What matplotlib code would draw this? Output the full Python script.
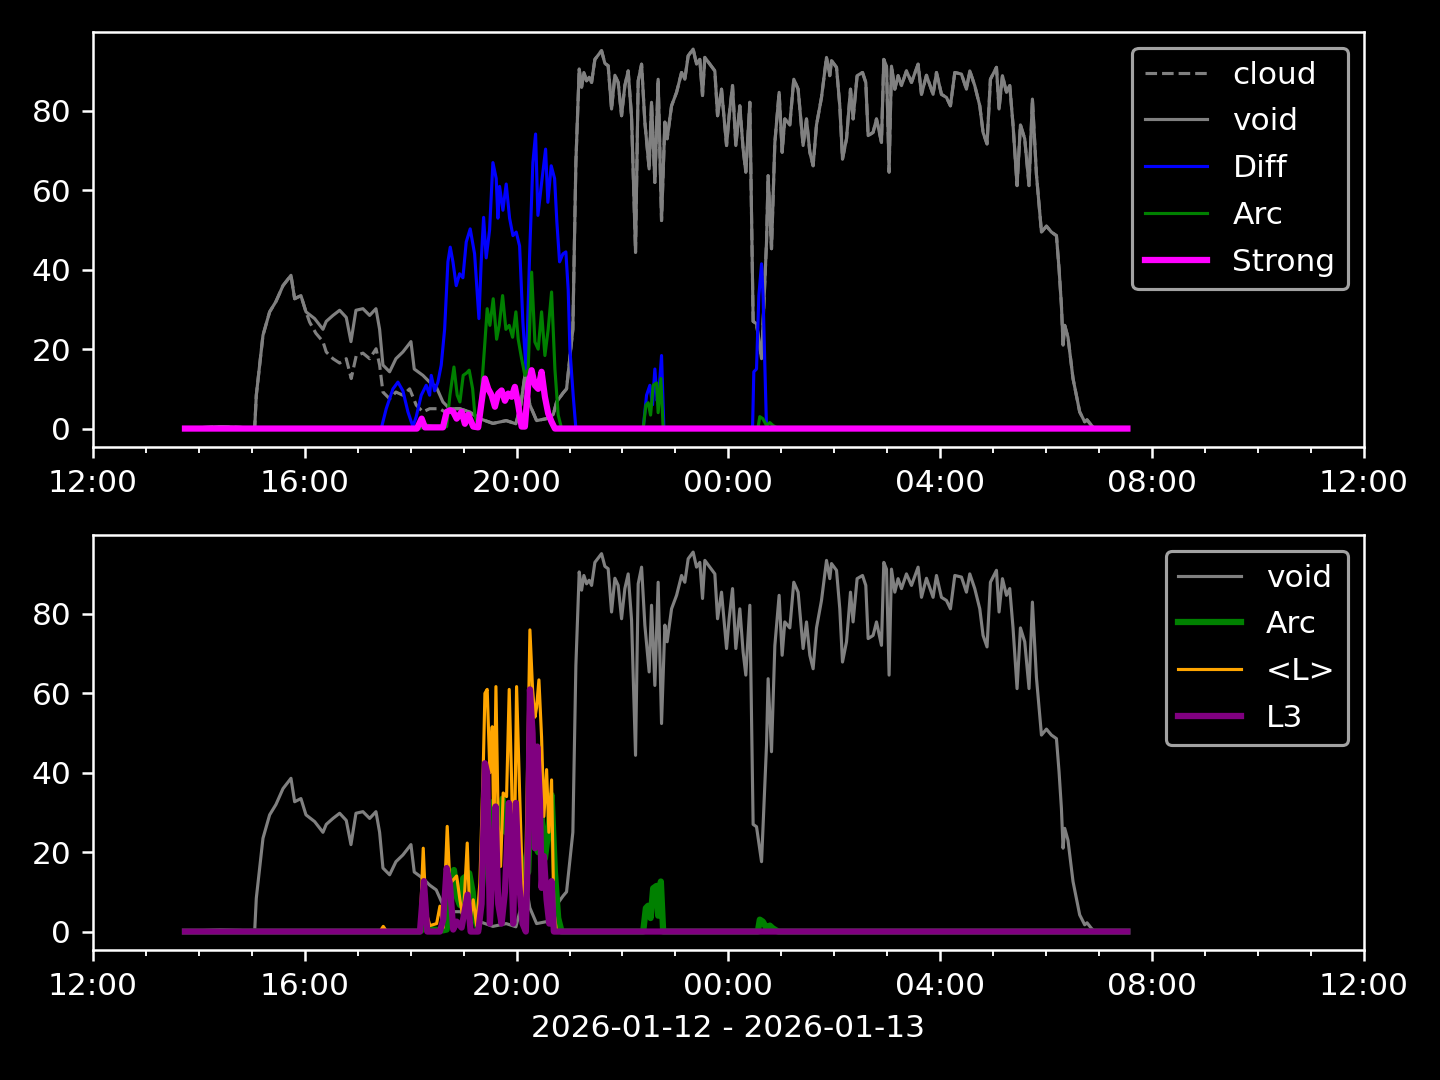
import numpy as np
import pandas as pd
import matplotlib
matplotlib.use("Agg")
import matplotlib.pyplot as plt
import matplotlib.dates as mdates

plt.style.use("dark_background")

# hours after 2026-01-12 12:00
start = pd.Timestamp("2026-01-12 12:00")

void_h = [1.737, 2.40, 2.78, 3.053, 3.084, 3.21, 3.336, 3.455, 3.588, 3.739, 3.808, 3.927, 4.022,
          4.186, 4.343, 4.405, 4.532, 4.658, 4.783, 4.872, 4.966, 5.098, 5.225, 5.344, 5.413, 5.476,
          5.602, 5.721, 5.853, 6.005, 6.067, 6.231, 6.358, 6.482, 6.609, 6.735, 6.924, 7.113, 7.302,
          7.553, 7.804, 7.987, 8.08, 8.157, 8.25, 8.378, 8.567, 8.692, 8.756, 8.88, 8.944,
          9.063, 9.12, 9.183, 9.228, 9.271, 9.322, 9.371, 9.417, 9.479, 9.605, 9.668, 9.730,
          9.794, 9.857, 9.919, 9.983, 10.045, 10.108, 10.172, 10.247, 10.297, 10.361, 10.423,
          10.504, 10.549, 10.612, 10.674, 10.738, 10.801, 10.844, 10.927, 11.022, 11.116, 11.178,
          11.241, 11.335, 11.399, 11.461, 11.512, 11.556, 11.650, 11.745, 11.796, 11.871, 11.966,
          12.015, 12.079, 12.141, 12.217, 12.279, 12.330, 12.406, 12.468, 12.532, 12.627, 12.721,
          12.751, 12.815, 12.878, 12.959, 13.016, 13.066, 13.161, 13.236, 13.318, 13.412, 13.476,
          13.539, 13.601, 13.665, 13.759, 13.854, 13.916, 13.948, 14.043, 14.105, 14.156, 14.232,
          14.307, 14.356, 14.432, 14.534, 14.596, 14.640, 14.734, 14.798, 14.892, 14.936, 14.987,
          15.036, 15.081, 15.144, 15.206, 15.270, 15.364, 15.459, 15.584, 15.648, 15.742, 15.867,
          15.931, 16.025, 16.120, 16.195, 16.277, 16.403, 16.497, 16.560, 16.654, 16.749, 16.811,
          16.886, 16.950, 17.064, 17.113, 17.177, 17.253, 17.315, 17.377, 17.453, 17.517, 17.598,
          17.679, 17.743, 17.819, 17.914, 18.008, 18.102, 18.197, 18.246, 18.291, 18.322, 18.353,
          18.415, 18.51, 18.636, 18.731, 18.775, 18.858, 18.92, 19.537]
void_v = [0, 0.5, 0.3, 0, 8.4, 23.5, 29.4, 32, 36, 38.6, 32.7, 33.5, 29.4,
          27.7, 25, 27, 28.5, 29.8, 28, 21.9, 29.8, 30.2, 28.5, 30.2, 25, 16,
          14.3, 17.6, 19.3, 21.9, 15, 13.4, 11.7, 10.5, 6.7, 5, 5, 4.2, 2.5,
          1.3, 2, 1.2, 6, 13.4, 6, 2, 2.5, 3.5, 6.7, 9, 10,
          25, 67, 90.6, 86, 89.7, 87.6, 88.5, 87.2, 93, 95.2, 92, 91.4,
          80.5, 89, 87.2, 78.8, 86.4, 90.1, 78.4, 44.4, 87.6, 91.8, 77.2,
          65.4, 82.2, 62, 88, 52.4, 77.2, 73, 81.3, 84.7, 89.7, 88,
          93.9, 95.6, 91.8, 93, 83.9, 93.5, 91.8, 90.1, 78.8, 85.5, 71.3,
          78.8, 86.4, 71.3, 81.3, 70.4, 64.6, 82.2, 27, 26.4, 17.6, 47,
          63.7, 45.3, 72, 84.7, 69.6, 78, 76.5, 88, 85.5, 71.3, 78,
          69.6, 66.2, 76.5, 83.4, 93.5, 88.9, 92.7, 91, 81.3, 67.9, 73,
          85.5, 78, 88.9, 89.7, 87.2, 73.8, 74.6, 78, 72.1, 93, 91.3,
          64.6, 91.3, 85.5, 88.9, 86.4, 90.1, 87.2, 91.8, 84.2, 89, 84.2,
          89.7, 84.2, 83.4, 81.3, 89.7, 89.3, 85.5, 90.1, 86.4, 81.3, 74.6,
          71.7, 88, 91, 80.5, 88.9, 84.7, 86.4, 76.5, 61.2, 76.5, 73,
          61.2, 83, 64, 49.5, 51, 49.5, 48.6, 40.3, 31, 21, 26,
          23, 12.6, 4.2, 1.7, 2.2, 0.8, 0, 0]

# cloud only differs from void between ~16:05 and ~18:45
cloud_h = [4.092, 4.21, 4.343, 4.405, 4.532, 4.658, 4.783, 4.877, 4.972, 5.098, 5.225, 5.346,
           5.413, 5.476, 5.602, 5.721, 5.853, 5.98, 6.105, 6.231, 6.358, 6.547, 6.671]
cloud_v = [26.8, 24, 21.9, 19.3, 17.6, 16.5, 17.6, 12.6, 18.4, 19, 17.6, 20.1,
           16, 9.2, 7.5, 9.2, 8.4, 10, 5.9, 4.2, 5, 5, 4]

diff_h = [1.737, 5.444, 5.538, 5.665, 5.759, 5.853, 5.948, 6.042, 6.105, 6.199, 6.293, 6.358,
          6.388, 6.452, 6.514, 6.577, 6.641, 6.703, 6.747, 6.798, 6.86, 6.924, 6.986, 7.049,
          7.124, 7.207, 7.289, 7.332, 7.377, 7.426, 7.49, 7.553, 7.615, 7.647, 7.679, 7.742,
          7.804, 7.868, 7.931, 7.993, 8.057, 8.119, 8.182, 8.246, 8.308, 8.359, 8.403, 8.465,
          8.548, 8.591, 8.654, 8.718, 8.761, 8.812, 8.875, 8.931, 8.975, 9.007, 9.069, 9.12,
          10.391, 10.455, 10.518, 10.568, 10.612, 10.655, 10.693, 10.738, 10.782,
          12.457, 12.481, 12.532, 12.576, 12.627, 12.657, 12.689, 12.721, 19.537]
diff_v = [0, 0, 5, 10, 11.7, 9.5, 4.2, 0.5, 3, 8.4, 10.9, 8.4,
          13.4, 9.5, 11.7, 16, 25, 42, 45.7, 42, 36, 39, 38, 47,
          50.3, 44, 27.7, 42, 53.2, 43, 50, 67, 63, 53, 61, 55,
          61.6, 53, 48.6, 49.5, 46, 26.8, 14.3, 43.6, 67, 74.2, 53.7, 61,
          70.4, 57, 66.2, 63, 52, 42, 44, 44.5, 35, 20, 8.4, 0,
          0, 8.4, 10.9, 6, 15, 7, 10, 18.4, 0,
          0, 14.3, 15, 33.5, 41.5, 33, 16, 0, 0]

arc_h = [1.737, 6.175, 6.269, 6.42, 6.609, 6.679, 6.741, 6.817, 6.879, 6.93, 6.992, 7.056,
         7.105, 7.17, 7.213, 7.275, 7.339, 7.402, 7.445, 7.496, 7.559, 7.623, 7.672, 7.736,
         7.798, 7.861, 7.925, 7.987, 8.031, 8.095, 8.157, 8.219, 8.284, 8.346, 8.408, 8.472,
         8.535, 8.597, 8.661, 8.724, 8.786, 8.85,
         10.391, 10.442, 10.485, 10.531, 10.58, 10.644, 10.674, 10.725, 10.769,
         12.557, 12.594, 12.651, 12.721, 12.783, 12.84, 12.94, 19.537]
arc_v = [0, 0, 1, 0.5, 0.3, 0.5, 8.4, 15.5, 8.4, 6.7, 13.4, 14,
         14.7, 10, 3.4, 0.5, 10, 21.8, 30.2, 26, 32.7, 22.5, 26, 33.5,
         25, 26, 23, 29.4, 22.5, 17.6, 13.4, 15, 39.4, 21.8, 20, 29.4,
         18.4, 25, 34.4, 15, 3.4, 0,
         0, 5.9, 6.5, 3.4, 10.9, 11.5, 4, 12.6, 0,
         0, 3, 2.5, 0.8, 1.5, 0.8, 0, 0]

strong_h = [1.737, 6.118, 6.207, 6.269, 6.609, 6.679, 6.741, 6.803, 6.868, 6.962, 7.024, 7.087,
            7.181, 7.275, 7.339, 7.402, 7.464, 7.528, 7.591, 7.653, 7.717, 7.78, 7.842, 7.906,
            7.968, 8.031, 8.095, 8.157, 8.219, 8.284, 8.346, 8.408, 8.472, 8.535, 8.597, 8.661,
            8.724, 19.537]
strong_v = [0, 0, 2.5, 0.3, 0.3, 4.2, 4.6, 4.2, 2.5, 4.2, 1.2, 3.5,
            0.5, 0.3, 6.7, 12.6, 10, 8.4, 5.5, 8.8, 9.6, 7, 8.8, 8,
            10.5, 6, 0.5, 0.5, 10.9, 14.7, 10.9, 10, 14.3, 8, 3.8, 1.7,
            0, 0]

lmean_h = [1.737, 5.419, 5.482, 5.546, 6.175, 6.237, 6.288, 6.363, 6.49, 6.552, 6.615, 6.69,
           6.741, 6.803, 6.868, 6.93, 6.992, 7.068, 7.119, 7.181, 7.245, 7.307, 7.371, 7.402,
           7.445, 7.496, 7.54, 7.572, 7.61, 7.653, 7.698, 7.747, 7.811, 7.861, 7.906, 7.95,
           8.0, 8.062, 8.113, 8.157, 8.208, 8.252, 8.302, 8.346, 8.378, 8.422, 8.472, 8.516,
           8.567, 8.61, 8.661, 8.704, 8.756, 19.537]
lmean_v = [0, 0, 1.3, 0, 0, 21, 5, 1.5, 2, 6.4, 1, 26.5,
           12, 13, 14, 8, 3, 22.3, 3, 8, 1.5, 12.3, 41.6, 60,
           61, 40, 51.6, 24, 61.7, 27, 16.4, 34.9, 34, 61, 38, 9.7,
           61.7, 33, 10.5, 3.8, 41.6, 76, 61, 54, 56.5, 63.4, 49, 29,
           40.8, 25, 38.2, 5, 0, 0]

l3_h = [1.737, 6.175, 6.25, 6.313, 6.552, 6.615, 6.679, 6.741, 6.803, 6.868, 6.962, 7.075,
        7.132, 7.275, 7.339, 7.402, 7.445, 7.496, 7.559, 7.604, 7.653, 7.717, 7.78, 7.855,
        7.906, 7.936, 7.987, 8.05, 8.113, 8.175, 8.219, 8.252, 8.302, 8.346, 8.39, 8.441,
        8.472, 8.516, 8.567, 8.617, 8.661, 8.704, 19.537]
l3_v = [0, 0, 12.7, 0, 0, 3, 16, 12, 0.5, 2.5, 1, 9.3,
        0, 0, 7, 42.4, 40, 2, 19, 31.5, 7, 2, 10, 32.4,
        16, 2, 32.4, 12, 2, 0, 24, 61, 50, 21, 46.6, 33,
        11, 19, 8, 2, 12.7, 0, 0]


def to_time(hours):
    return start + pd.to_timedelta(np.array(hours) * 3600, unit="s")


# cloud = void outside the stretch where it drops lower
vh = np.array(void_h)
vv = np.array(void_v)
before = vh < cloud_h[0]
after = vh > cloud_h[-1]
cloud_all_h = np.concatenate([vh[before], cloud_h, vh[after]])
cloud_all_v = np.concatenate([vv[before], cloud_v, vv[after]])

fig, (ax1, ax2) = plt.subplots(2, 1, figsize=(6.4, 4.8), dpi=225)

ax1.plot(to_time(cloud_all_h), cloud_all_v, color="gray", ls="--", lw=1, label="cloud")
ax1.plot(to_time(void_h), void_v, color="gray", lw=1, label="void")
ax1.plot(to_time(diff_h), diff_v, color="blue", lw=1, label="Diff")
ax1.plot(to_time(arc_h), arc_v, color="green", lw=1, label="Arc")
ax1.plot(to_time(strong_h), strong_v, color="magenta", lw=2, label="Strong")
ax1.legend(loc="upper right", labelspacing=0.57)

ax2.plot(to_time(void_h), void_v, color="gray", lw=1, label="void")
ax2.plot(to_time(arc_h), arc_v, color="green", lw=2, label="Arc")
ax2.plot(to_time(lmean_h), lmean_v, color="orange", lw=1, label="<L>")
ax2.plot(to_time(l3_h), l3_v, color="purple", lw=2, label="L3")
ax2.legend(loc="upper right", labelspacing=0.57)
ax2.set_xlabel("2026-01-12 - 2026-01-13")

for ax in (ax1, ax2):
    ax.set_xlim(start, start + pd.Timedelta(hours=24))
    ax.set_ylim(-4.75, 99.8)
    ax.xaxis.set_major_locator(mdates.HourLocator(byhour=range(0, 24, 4)))
    ax.xaxis.set_minor_locator(mdates.HourLocator())
    ax.xaxis.set_major_formatter(mdates.DateFormatter("%H:%M"))

plt.subplots_adjust(left=0.0646, right=0.947, top=0.970, bottom=0.120, hspace=0.212)
plt.savefig("out.png")
